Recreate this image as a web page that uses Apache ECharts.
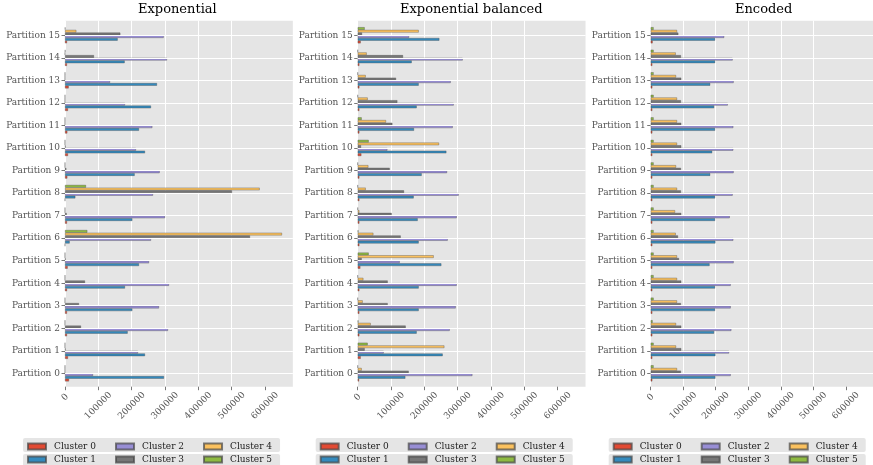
<!DOCTYPE html>
<html>
<head>
<meta charset="utf-8">
<script src="https://cdn.jsdelivr.net/npm/echarts@6/dist/echarts.min.js"></script>
<style>
  html, body { margin: 0; padding: 0; background: #ffffff; }
  #chart { width: 873px; height: 465px; }
</style>
</head>
<body>
<div id="chart"></div>
<script>
// Row labels (bottom to top) and x tick values
const partitions = ['Partition 0', 'Partition 1', 'Partition 2', 'Partition 3', 'Partition 4', 'Partition 5', 'Partition 6', 'Partition 7',
  'Partition 8', 'Partition 9', 'Partition 10', 'Partition 11', 'Partition 12', 'Partition 13', 'Partition 14', 'Partition 15'];
const xTicks = [0, 100000, 200000, 300000, 400000, 500000, 600000];
const clusterNames = ['Cluster 0', 'Cluster 1', 'Cluster 2', 'Cluster 3', 'Cluster 4', 'Cluster 5'];
const panelTitles = ['Exponential', 'Exponential balanced', 'Encoded'];

// Exponential: cluster sizes per partition (index = partition)
const expCluster0 = [12000, 9000, 6000, 6000, 6000, 8000, 0, 6000, 0, 7000, 9000, 7000, 9000, 11000, 6000, 6000];
const expCluster1 = [297000, 240000, 188000, 202000, 180000, 222000, 14000, 202000, 31000, 209000, 240000, 222000, 258000, 276000, 179000, 158000];
const expCluster2 = [84000, 219000, 309000, 282000, 312000, 252000, 258000, 300000, 264000, 284000, 213000, 262000, 180000, 135000, 306000, 296000];
const expCluster3 = [0, 2000, 48000, 42000, 60000, 2000, 555000, 5000, 501000, 4000, 2000, 0, 0, 0, 87000, 166000];
const expCluster4 = [0, 0, 0, 0, 0, 0, 651000, 0, 584000, 0, 0, 0, 0, 0, 0, 34000];
const expCluster5 = [0, 0, 0, 0, 0, 0, 67000, 0, 63000, 0, 0, 0, 0, 0, 1000, 1000];

// Exponential balanced
const balCluster0 = [4000, 9000, 5000, 5000, 5000, 8000, 5000, 5000, 5000, 5000, 11000, 5000, 5000, 5000, 5000, 9000];
const balCluster1 = [143000, 255000, 177000, 183000, 183000, 251000, 183000, 180000, 168000, 192000, 266000, 169000, 177000, 183000, 162000, 245000];
const balCluster2 = [344000, 78000, 276000, 294000, 297000, 126000, 270000, 297000, 303000, 268000, 89000, 285000, 288000, 279000, 315000, 154000];
const balCluster3 = [153000, 21000, 144000, 90000, 90000, 12000, 129000, 102000, 139000, 96000, 10000, 104000, 119000, 115000, 136000, 13000];
const balCluster4 = [12000, 260000, 39000, 15000, 17000, 228000, 47000, 5000, 24000, 32000, 244000, 85000, 30000, 24000, 27000, 183000];
const balCluster5 = [0, 30000, 2000, 0, 0, 33000, 2000, 0, 0, 0, 33000, 12000, 0, 0, 0, 21000];

// Encoded
const encCluster0 = [5000, 5000, 5000, 5000, 5000, 5000, 5000, 5000, 5000, 5000, 5000, 5000, 5000, 5000, 5000, 6000];
const encCluster1 = [199000, 199000, 195000, 198000, 198000, 181000, 199000, 198000, 198000, 183000, 189000, 198000, 195000, 183000, 198000, 198000];
const encCluster2 = [246000, 241000, 248000, 246000, 246000, 255000, 254000, 243000, 252000, 255000, 254000, 254000, 237000, 255000, 252000, 226000];
const encCluster3 = [93000, 94000, 94000, 93000, 94000, 87000, 84000, 94000, 93000, 93000, 94000, 94000, 93000, 94000, 93000, 85000];
const encCluster4 = [81000, 78000, 78000, 81000, 81000, 81000, 77000, 75000, 81000, 78000, 81000, 81000, 81000, 78000, 77000, 81000];
const encCluster5 = [9000, 9000, 6000, 9000, 9000, 9000, 9000, 9000, 9000, 9000, 9000, 9000, 9000, 9000, 9000, 9000];

const panels = [
  [expCluster0, expCluster1, expCluster2, expCluster3, expCluster4, expCluster5],
  [balCluster0, balCluster1, balCluster2, balCluster3, balCluster4, balCluster5],
  [encCluster0, encCluster1, encCluster2, encCluster3, encCluster4, encCluster5]
];

const clusterColors = ['#E24A33', '#348ABD', '#988ED5', '#777777', '#FBC15E', '#8EBA42'];
const FONT = 'DejaVu Serif';
const TICK_COLOR = '#555555';

// shared x range with a 5% margin past the longest bar
const longest = Math.max(...panels.flat(2));
const xMax = longest * 1.05;

// layout: an outer frame (background, x axis) and an inner band holding the partition rows
const plotLefts = [65, 357.7, 650.7];
const plotWidth = 227.85;
const frameTop = 20.7, frameHeight = 366;
const rowsTop = 24.0, rowsHeight = 360.6;
const titleLefts = [138, 400, 735];

const grids = [], xAxes = [], yAxes = [], series = [], titles = [], legends = [];

panels.forEach((panel, p) => {
  const outer = 2 * p, inner = 2 * p + 1;
  grids.push({
    left: plotLefts[p], top: frameTop, width: plotWidth, height: frameHeight,
    show: true, backgroundColor: '#E5E5E5', borderWidth: 0, containLabel: false
  });
  grids.push({
    left: plotLefts[p], top: rowsTop, width: plotWidth, height: rowsHeight,
    show: false, containLabel: false
  });
  titles.push({
    text: panelTitles[p], left: titleLefts[p], top: 3, padding: 0,
    textStyle: { fontFamily: FONT, fontSize: 13, fontWeight: 'normal', color: '#000000' }
  });

  // visible x axis on the frame
  xAxes.push({
    type: 'value', gridIndex: outer, min: 0, max: xMax,
    axisLine: { show: false },
    axisTick: { show: true, length: 3.5, lineStyle: { color: TICK_COLOR, width: 0.8 }, customValues: xTicks },
    splitLine: { show: true, showMaxLine: false, lineStyle: { color: '#FFFFFF', width: 1 } },
    axisLabel: {
      customValues: xTicks, rotate: 45, align: 'center', verticalAlign: 'middle', margin: 19,
      fontFamily: FONT, fontSize: 9, color: TICK_COLOR,
      formatter: v => (v === 0 ? '{z|0}' : String(v)),
      rich: { z: { fontFamily: FONT, fontSize: 9, color: TICK_COLOR, padding: [0, 0, 12, 12] } }
    }
  });
  yAxes.push({ type: 'value', gridIndex: outer, show: false, min: 0, max: 1 });

  // bars are measured on a hidden twin of the x axis
  xAxes.push({ type: 'value', gridIndex: inner, min: 0, max: xMax, show: false, splitLine: { show: false } });
  yAxes.push({
    type: 'category', gridIndex: inner, data: partitions,
    axisLine: { show: false },
    axisTick: { show: true, alignWithLabel: true, interval: 0, length: 3.5, lineStyle: { color: TICK_COLOR, width: 0.8 } },
    splitLine: { show: false },
    axisLabel: { interval: 0, margin: 5, fontFamily: FONT, fontSize: 9, color: TICK_COLOR }
  });

  // white horizontal gridlines through each partition row, beneath the bars
  series.push({
    type: 'line', name: 'rows' + p, xAxisIndex: inner, yAxisIndex: inner, data: [], z: 1, silent: true,
    markLine: {
      silent: true, symbol: 'none', label: { show: false }, animation: false,
      lineStyle: { color: '#FFFFFF', width: 1, type: 'solid' },
      data: partitions.map(c => ({ yAxis: c }))
    }
  });
  // clusters are added last-to-first so Cluster 0 sits at the bottom of each group
  for (let c = panel.length - 1; c >= 0; c--) {
    series.push({
      type: 'bar', name: clusterNames[c], xAxisIndex: inner, yAxisIndex: inner,
      data: panel[c], barWidth: 2.7, barGap: '0%', z: 2,
      itemStyle: { color: clusterColors[c], borderColor: 'rgba(70,70,70,0.7)', borderWidth: 0.5 }
    });
  }

  const legendLeft = plotLefts[p] - 42;
  const legendCommon = {
    orient: 'horizontal', left: legendLeft, itemWidth: 18, itemHeight: 6, itemGap: 19,
    icon: 'rect', backgroundColor: '#E5E5E5', borderRadius: 2, selectedMode: false,
    textStyle: { fontFamily: FONT, fontSize: 9, color: '#222222', padding: [0, 0, 0, 3] }
  };
  legends.push(Object.assign({}, legendCommon, {
    top: 438, padding: [4, 8, 1, 4], data: ['Cluster 0', 'Cluster 2', 'Cluster 4']
  }));
  legends.push(Object.assign({}, legendCommon, {
    top: 454, padding: [1, 8, 6, 4], data: ['Cluster 1', 'Cluster 3', 'Cluster 5']
  }));
});

const chart = echarts.init(document.getElementById('chart'), null, { renderer: 'canvas' });
chart.setOption({
  animation: false,
  backgroundColor: '#FFFFFF',
  title: titles,
  legend: legends,
  grid: grids,
  xAxis: xAxes,
  yAxis: yAxes,
  series: series
});
</script>
</body>
</html>
